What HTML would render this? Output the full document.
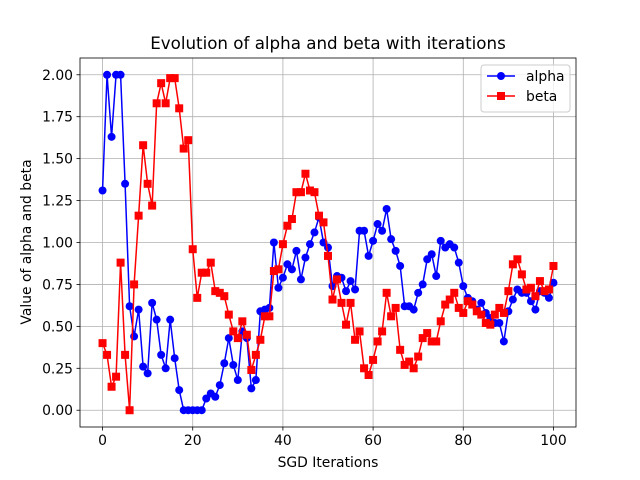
<!DOCTYPE html>
<html><head><meta charset="utf-8"><style>
body{margin:0;background:#fff;}
svg{display:block;font-family:"DejaVu Sans","Liberation Sans",sans-serif;}
</style></head><body>
<svg id="chart" width="640" height="480">
<rect width="640" height="480" fill="#fff"/>
<g id="grid"></g>
<g id="series"></g>
<rect x="80" y="58" width="496" height="369" fill="none" stroke="#000" stroke-width="0.8"/>
<g id="ticks"></g>
<text x="328" y="49" font-size="16.7" text-anchor="middle">Evolution of alpha and beta with iterations</text>
<text x="328" y="467" font-size="13.9" text-anchor="middle">SGD Iterations</text>
<text transform="translate(31,242) rotate(-90)" font-size="13.9" text-anchor="middle">Value of alpha and beta</text>
<g>
<rect x="481" y="65" width="89" height="47" rx="3" fill="#fff" fill-opacity="0.8" stroke="#ccc"/>
<g>
<line x1="487" y1="76" x2="515" y2="76" stroke="#0000ff" stroke-width="1.5"/><circle cx="501" cy="76" r="4" fill="#0000ff"/>
<text x="526" y="81" font-size="13.9">alpha</text></g>
<g>
<line x1="487" y1="96" x2="515" y2="96" stroke="#ff0000" stroke-width="1.5"/><rect x="497" y="92" width="8" height="8" fill="#ff0000"/>
<text x="526" y="101" font-size="13.9">beta</text></g>
</g>
</svg>
<script>
const alphaValues=[1.31,2.0,1.63,2.0,2.0,1.35,0.62,0.44,0.6,0.26,0.22,0.64,0.54,0.33,0.25,0.54,0.31,0.12,0,0,0,0,0,0.07,0.1,0.08,0.15,0.28,0.43,0.27,0.18,0.47,0.43,0.13,0.18,0.59,0.6,0.61,1.0,0.73,0.79,0.87,0.84,0.95,0.78,0.91,0.99,1.06,1.15,1.0,0.97,0.74,0.8,0.79,0.71,0.77,0.72,1.07,1.07,0.92,1.01,1.11,1.07,1.2,1.02,0.95,0.86,0.62,0.62,0.6,0.7,0.75,0.9,0.93,0.8,1.01,0.97,0.99,0.97,0.88,0.74,0.67,0.65,0.6,0.64,0.58,0.55,0.52,0.52,0.41,0.59,0.66,0.72,0.7,0.7,0.65,0.6,0.71,0.7,0.67,0.76];
const betaValues=[0.4,0.33,0.14,0.2,0.88,0.33,0,0.75,1.16,1.58,1.35,1.22,1.83,1.95,1.83,1.98,1.98,1.8,1.56,1.61,0.96,0.67,0.82,0.82,0.88,0.71,0.7,0.68,0.57,0.47,0.43,0.53,0.45,0.24,0.33,0.42,0.56,0.56,0.83,0.84,0.99,1.1,1.14,1.3,1.3,1.41,1.31,1.3,1.16,1.12,0.92,0.66,0.78,0.64,0.51,0.64,0.42,0.47,0.25,0.21,0.3,0.41,0.47,0.7,0.56,0.61,0.36,0.27,0.29,0.25,0.32,0.43,0.46,0.41,0.41,0.53,0.63,0.66,0.7,0.61,0.58,0.65,0.63,0.59,0.57,0.52,0.51,0.57,0.61,0.58,0.71,0.87,0.9,0.81,0.72,0.73,0.68,0.77,0.71,0.72,0.86];
const xTicks=[0,20,40,60,80,100];
const yTicks=[0,0.25,0.5,0.75,1.0,1.25,1.5,1.75,2.0];
const L=80,R=576,T=58,B=427;
const xs=v=>L+(v+5)/110*(R-L);
const ys=v=>B-(v+0.1)/2.2*(B-T);
const NS="http://www.w3.org/2000/svg";
function mk(tag,attrs,parent){const e=document.createElementNS(NS,tag);for(const k in attrs)e.setAttribute(k,attrs[k]);parent.appendChild(e);return e;}
const grid=document.getElementById('grid'),ticks=document.getElementById('ticks'),series=document.getElementById('series');
xTicks.forEach(t=>{const x=xs(t);
 const g=mk('line',{x1:x,x2:x,y1:T,y2:B,stroke:'#b0b0b0','stroke-width':0.8},grid);
 
 
 mk('line',{x1:x,x2:x,y1:B,y2:B+3.5,stroke:'#000','stroke-width':0.8},ticks);
 const tx=mk('text',{x:x,y:B+18,'font-size':13.9,'text-anchor':'middle'},ticks);tx.textContent=t;
 
 
});
yTicks.forEach(t=>{const y=ys(t);
 const g=mk('line',{x1:L,x2:R,y1:y,y2:y,stroke:'#b0b0b0','stroke-width':0.8},grid);
 
 
 mk('line',{x1:L-3.5,x2:L,y1:y,y2:y,stroke:'#000','stroke-width':0.8},ticks);
 const tx=mk('text',{x:L-7,y:y+5,'font-size':13.9,'text-anchor':'end'},ticks);tx.textContent=t.toFixed(2);
 
 
});
function draw(vals,color,square,name){
 const pts=vals.map((v,i)=>xs(i).toFixed(2)+','+ys(v).toFixed(2)).join(' ');
 const pl=mk('polyline',{points:pts,fill:'none',stroke:color,'stroke-width':1.5},series);
 
 
 vals.forEach((v,i)=>{let m;
  if(square)m=mk('rect',{x:xs(i)-4,y:ys(v)-4,width:8,height:8,fill:color},series);
  else m=mk('circle',{cx:xs(i),cy:ys(v),r:4,fill:color},series);
  
  
 });
}
draw(alphaValues,'#0000ff',false,'alpha');
draw(betaValues,'#ff0000',true,'beta');
</script>
</body></html>
